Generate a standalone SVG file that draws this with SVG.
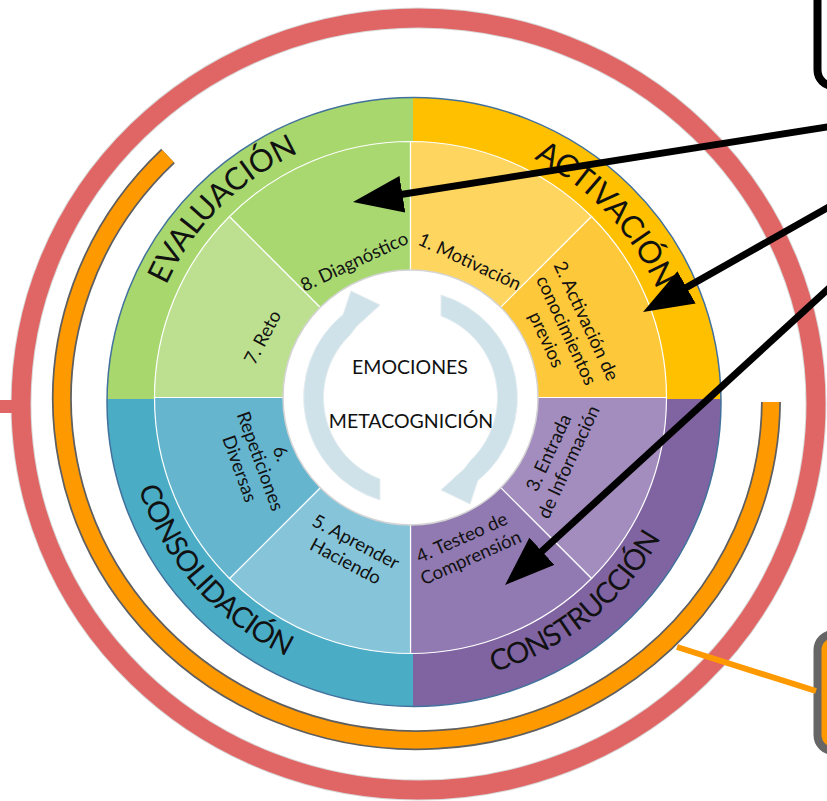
<svg xmlns="http://www.w3.org/2000/svg" width="827" height="801" viewBox="0 0 827 801">
<style>
.lbl{font-family:Lato,"Open Sans","Liberation Sans",sans-serif;font-size:18.5px;fill:#111;text-anchor:middle;dominant-baseline:central}
.ttl{font-family:Lato,"Open Sans","Liberation Sans",sans-serif;font-size:31px;fill:#111;text-anchor:middle;letter-spacing:-0.3px}
.ttlb{font-family:Lato,"Open Sans","Liberation Sans",sans-serif;font-size:29px;fill:#111;text-anchor:middle;letter-spacing:-0.8px}
.ctr{font-family:Lato,"Open Sans","Liberation Sans",sans-serif;font-size:19.5px;fill:#111;text-anchor:middle}
.seg{stroke:#ffffff;stroke-width:1.2}
.arr{stroke:#000;stroke-width:7;fill:none}
.carrow{fill:#cfe2ea;stroke:#e4edf0;stroke-width:1}
</style>
<defs>
<clipPath id="outerClip"><ellipse cx="414" cy="402" rx="307" ry="304.5"/></clipPath>
<path id="pTop" d="M 141.5,397.5 A 269 269 0 0 1 679.5,397.5"/>
<path id="pBot" d="M 123.5,397.5 A 287 287 0 0 0 697.5,397.5"/>
<marker id="head" markerUnits="userSpaceOnUse" viewBox="0 0 50 37" refX="35" refY="18.5" markerWidth="50" markerHeight="37" orient="auto">
<path d="M0,0 L50,18.5 L0,37 Z" fill="#000"/>
</marker>
</defs>
<rect width="827" height="801" fill="#ffffff"/>

<g id="red-ring">
<ellipse cx="418.5" cy="404" rx="397.5" ry="386" fill="none" stroke="#d9d9d9" stroke-width="21"/>
<ellipse cx="418.5" cy="404" rx="397.5" ry="386" fill="none" stroke="#e06666" stroke-width="19"/>
<rect x="0" y="400" width="28" height="13" fill="#e06666"/>
</g>

<g id="orange-ring">
<path d="M 168,156 A 354.5 341 0 1 0 771,402" fill="none" stroke="#5f5f5f" stroke-width="20"/>
<path d="M 168,156 A 354.5 341 0 1 0 771,402" fill="none" stroke="#ff9900" stroke-width="16.5"/>
</g>

<g id="quadrants" clip-path="url(#outerClip)">
<rect id="q-evaluacion" x="0" y="0" width="413" height="399" fill="#a7d76d"/>
<rect id="q-activacion" x="413" y="0" width="414" height="399" fill="#ffc000"/>
<rect id="q-construccion" x="413" y="399" width="414" height="402" fill="#8064a2"/>
<rect id="q-consolidacion" x="0" y="399" width="413" height="402" fill="#4bacc6"/>
</g>
<ellipse cx="414" cy="402" rx="307" ry="304.5" fill="none" stroke="#41719c" stroke-width="1.5"/>

<g id="seg3"><path class="seg" d="M410.5,397.5 L666.5,397.5 A256 256 0 0 1 591.52,578.52 Z" fill="#a38dbf"/></g>
<g id="seg4"><path class="seg" d="M410.5,397.5 L591.52,578.52 A256 256 0 0 1 410.5,653.5 Z" fill="#9179b1"/></g>
<g id="seg5"><path class="seg" d="M410.5,397.5 L410.5,653.5 A256 256 0 0 1 229.48,578.52 Z" fill="#86c5d9"/></g>
<g id="seg6"><path class="seg" d="M410.5,397.5 L229.48,578.52 A256 256 0 0 1 154.5,397.5 Z" fill="#65b5cf"/></g>
<g id="seg7"><path class="seg" d="M410.5,397.5 L154.5,397.5 A256 256 0 0 1 229.48,216.48 Z" fill="#bde090"/></g>
<g id="seg8"><path class="seg" d="M410.5,397.5 L229.48,216.48 A256 256 0 0 1 410.5,141.5 Z" fill="#a9d871"/></g>
<g id="seg1"><path class="seg" d="M410.5,397.5 L410.5,141.5 A256 256 0 0 1 591.52,216.48 Z" fill="#fdd55f"/></g>
<g id="seg2"><path class="seg" d="M410.5,397.5 L591.52,216.48 A256 256 0 0 1 666.5,397.5 Z" fill="#fdc83a"/></g>

<g id="center">
<circle cx="410.5" cy="397.5" r="127.5" fill="#ffffff" stroke="#d4d4d4" stroke-width="1.5"/>
<path class="carrow" d="M380,500 A107 107 0 0 1 343.2,314.4 L351,291 L380,305 L357,326 L350,335 A87 87 0 0 0 380,479 Z"/>
<path class="carrow" d="M441,295 A107 107 0 0 1 477.8,480.6 L470,504 L441,490 L464,469 L471,460 A87 87 0 0 0 441,316 Z"/>
<text class="ctr" x="410" y="374">EMOCIONES</text>
<text class="ctr" x="411" y="428">METACOGNICIÓN</text>
</g>

<g id="labels">
<text class="lbl" transform="translate(354,261) rotate(-25)">8. Diagnóstico</text>
<text class="lbl" transform="translate(470,261) rotate(25)">1. Motivación</text>
<text class="lbl" transform="translate(262,337) rotate(-62)">7. Reto</text>
<text class="lbl" transform="translate(567,330) rotate(65)"><tspan x="0" y="-22">2. Activación de</tspan><tspan x="0" y="0">conocimientos</tspan><tspan x="0" y="22">previos</tspan></text>
<text class="lbl" transform="translate(558,457) rotate(-65)"><tspan x="0" y="-11">3. Entrada</tspan><tspan x="0" y="11">de Información</tspan></text>
<text class="lbl" transform="translate(466,547) rotate(-24)"><tspan x="0" y="-11">4. Testeo de</tspan><tspan x="0" y="11">Comprensión</tspan></text>
<text class="lbl" transform="translate(351,551) rotate(28)"><tspan x="0" y="-11">5. Aprender</tspan><tspan x="0" y="11">Haciendo</tspan></text>
<text class="lbl" transform="translate(261,461) rotate(70)"><tspan x="0" y="-22">6.</tspan><tspan x="0" y="0">Repeticiones</tspan><tspan x="0" y="22">Diversas</tspan></text>
</g>

<g id="titles">
<text class="ttl"><textPath href="#pTop" startOffset="25%">EVALUACIÓN</textPath></text>
<text class="ttl"><textPath href="#pTop" startOffset="76%">ACTIVACIÓN</textPath></text>
<text class="ttlb"><textPath href="#pBot" startOffset="23%">CONSOLIDACIÓN</textPath></text>
<text class="ttlb"><textPath href="#pBot" startOffset="71.5%">CONSTRUCCIÓN</textPath></text>
</g>

<g id="box-top">
<rect x="817.5" y="-20" width="40" height="106" rx="16" fill="#ffffff" stroke="#000" stroke-width="8"/>
</g>
<g id="box-bottom">
<rect x="817.5" y="634" width="40" height="117" rx="16" fill="#ff9900" stroke="#666666" stroke-width="8"/>
</g>

<g id="connectors">
<line class="arr" x1="835" y1="125.7" x2="367.8" y2="199.7" marker-end="url(#head)"/>
<line class="arr" x1="835" y1="203.5" x2="656.1" y2="304.6" marker-end="url(#head)"/>
<line class="arr" x1="835" y1="282.7" x2="516.1" y2="574.9" marker-end="url(#head)"/>
<line x1="677" y1="647" x2="816" y2="691" stroke="#ff9900" stroke-width="6"/>
</g>
</svg>
